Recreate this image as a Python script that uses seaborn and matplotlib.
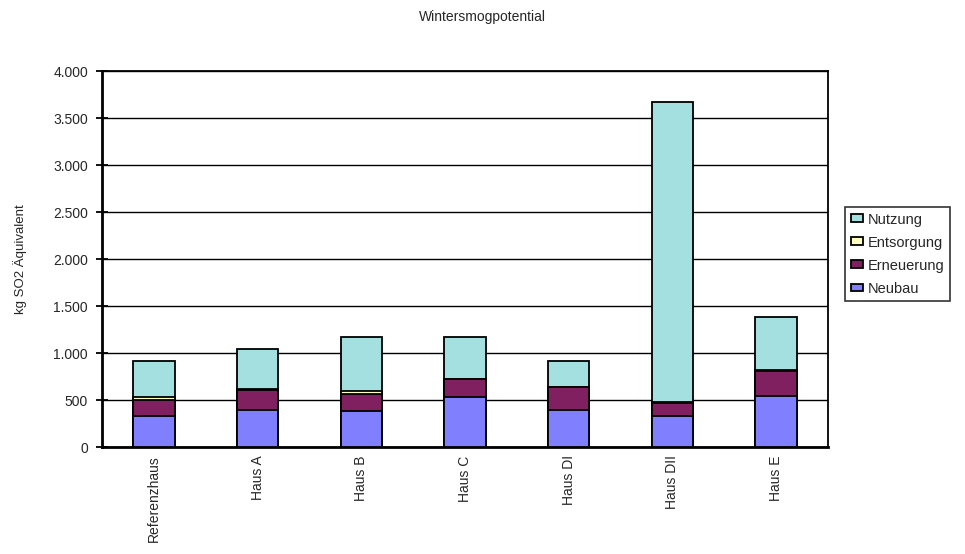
import matplotlib
matplotlib.use("Agg")
import matplotlib.pyplot as plt
from matplotlib.ticker import FuncFormatter, MultipleLocator, FixedLocator
from matplotlib.patches import Patch
import numpy as np
import pandas as pd
import seaborn as sns

categories = ["Referenzhaus", "Haus A", "Haus B", "Haus C", "Haus DI", "Haus DII", "Haus E"]
neubau = [332, 396, 379, 529, 396, 332, 546]
erneuerung = [168, 211, 185, 192, 240, 132, 261]
entsorgung = [29, 8, 29, 5, 5, 15, 8]
nutzung = [385, 428, 582, 445, 273, 3191, 570]

series_names = ["Neubau", "Erneuerung", "Entsorgung", "Nutzung"]
series_colors = {
    "Neubau": "#8080FF",
    "Erneuerung": "#802060",
    "Entsorgung": "#FFFFC0",
    "Nutzung": "#A4E0E0",
}

df = pd.DataFrame({
    "Haus": categories,
    "Neubau": neubau,
    "Erneuerung": erneuerung,
    "Entsorgung": entsorgung,
    "Nutzung": nutzung,
})
# cumulative heights for stacking (bottom to top)
cum = df[series_names].cumsum(axis=1)
cum["Haus"] = df["Haus"]

sns.set_style("white")
plt.rcParams["font.family"] = ["Liberation Sans", "DejaVu Sans"]

fig = plt.figure(figsize=(9.65, 5.54), dpi=100)
ax = fig.add_axes([0.1057, 0.1931, 0.7523, 0.6787])

# draw tallest cumulative layer first so lower segments sit on top
for name in reversed(series_names):
    sns.barplot(data=cum, x="Haus", y=name, color=series_colors[name],
                saturation=1, width=0.4, edgecolor="black", linewidth=1.3,
                ax=ax, zorder=3)

ax.set_ylim(0, 4000)
ax.set_xlim(-0.5, len(categories) - 0.5)
ax.yaxis.set_major_locator(MultipleLocator(500))
ax.yaxis.set_major_formatter(FuncFormatter(lambda v, p: f"{int(v):,}".replace(",", ".")))
ax.grid(axis="y", color="black", linewidth=1.0, zorder=0)
ax.set_axisbelow(True)

ax.set_xticks(range(len(categories)))
ax.set_xticklabels(categories, rotation=90, fontsize=10, va="top", ha="center")
ax.xaxis.set_minor_locator(FixedLocator(np.arange(-0.5, len(categories), 1.0)))
ax.tick_params(axis="x", which="major", length=0, pad=6)
ax.tick_params(axis="x", which="minor", length=8, width=1.3, direction="inout", color="black")
ax.tick_params(axis="y", which="major", length=8, width=1.3, direction="inout",
               color="black", labelsize=10, pad=6)
ax.tick_params(left=True, bottom=True)

for side, lw in [("left", 2.0), ("bottom", 2.0), ("top", 1.3), ("right", 1.3)]:
    ax.spines[side].set_visible(True)
    ax.spines[side].set_color("black")
    ax.spines[side].set_linewidth(lw)

ax.set_xlabel("")
ax.set_ylabel("kg SO2 Äquivalent", fontsize=9.5, labelpad=19)

fig.suptitle("Wintersmogpotential", fontsize=10, x=0.5, y=0.982)

handles = [Patch(facecolor=series_colors[n], edgecolor="black", linewidth=1.3, label=n)
           for n in reversed(series_names)]
leg = fig.legend(handles=handles, loc="upper left", bbox_to_anchor=(0.876, 0.6264),
                 fontsize=10.5, frameon=True, fancybox=False, edgecolor="black",
                 handlelength=0.8, handleheight=0.45, handletextpad=0.35,
                 labelspacing=0.62, borderpad=0.38, borderaxespad=0)
leg.get_frame().set_linewidth(1.2)

fig.savefig("out.png", dpi=100)
